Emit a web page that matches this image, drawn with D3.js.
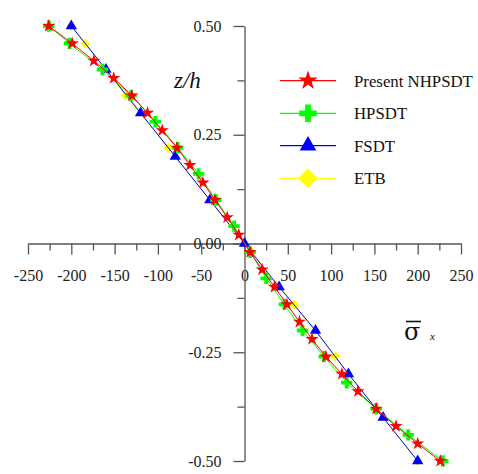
<!DOCTYPE html>
<html><head><meta charset="utf-8">
<script src="https://cdn.jsdelivr.net/npm/d3@7"></script>
<style>html,body{margin:0;padding:0;background:#fff;}svg{display:block;}</style>
</head><body>
<div id="chart"></div>
<script>
// ---- data ----
const xTicks = [-250, -200, -150, -100, -50, 0, 50, 100, 150, 200, 250];
const xTickLabels = ["-250", "-200", "-150", "-100", "-50", "0", "50", "100", "150", "200", "250"];
const yTicks = [0.5, 0.25, 0, -0.25, -0.5];
const yTickLabels = ["0.50", "0.25", "0.00", "-0.25", "-0.50"];

const seriesNames = ["Present NHPSDT", "HPSDT", "FSDT", "ETB"];

const zPresent = [0.5, 0.46, 0.42, 0.38, 0.34, 0.30, 0.26, 0.22, 0.18, 0.14, 0.10, 0.06, 0.02,
  -0.02, -0.06, -0.10, -0.14, -0.18, -0.22, -0.26, -0.30, -0.34, -0.38, -0.42, -0.46, -0.5];
const sPresent = [-226, -199, -174, -151, -130, -112, -95, -78, -63, -48, -34, -20, -6.6,
  6.5, 20.4, 34.6, 49, 63.5, 78, 94, 112.5, 131, 152, 175, 200, 226];

const zHPSDT = [0.5, 0.46, 0.40, 0.34, 0.28, 0.22, 0.16, 0.10, 0.04,
  -0.02, -0.08, -0.14, -0.20, -0.26, -0.32, -0.38, -0.44, -0.5];
const sHPSDT = [-226, -202, -164, -131, -103, -77, -53, -33, -12,
  6.5, 25, 46, 67, 92, 118, 152, 189, 229];

const zFSDT = [0.5, 0.4, 0.3, 0.2, 0.1, 0, -0.1, -0.2, -0.3, -0.4, -0.5];
const sFSDT = [-200, -160, -120, -80, -40, 0, 40, 82, 120, 160, 200];

const zETB = [0.5, 0.46, 0.34, 0.22, 0.10, -0.02, -0.14, -0.26, -0.38, -0.5];
const sETB = [-200, -184, -137, -88, -40, 8, 57, 105, 152, 200];

const colors = ["#ff0000", "#00ff00", "#0000ff", "#ffff00"];

// ---- layout ----
const W = 478, H = 474;
const svg = d3.select("#chart").append("svg").attr("width", W).attr("height", H);
const x = d3.scaleLinear().domain([-250, 250]).range([28, 461]);
const y = d3.scaleLinear().domain([-0.5, 0.5]).range([461, 26]);
const font = "'Liberation Serif','Times New Roman',serif";
const axisColor = "#555";

// minor ticks
const xMinor = d3.range(-225, 250, 50);
const yMinor = [0.375, 0.125, -0.125, -0.375];

const gx = svg.append("g").attr("transform", `translate(0,${y(0)})`);
gx.call(d3.axisBottom(x).tickValues(xTicks).tickFormat((d, i) => xTickLabels[i]).tickSize(11).tickPadding(15).tickSizeOuter(0));
gx.append("g").call(d3.axisBottom(x).tickValues(xMinor).tickFormat("").tickSize(7).tickSizeOuter(0))
  .select(".domain").remove();

const gy = svg.append("g").attr("transform", `translate(${x(0)},0)`);
gy.call(d3.axisLeft(y).tickValues(yTicks).tickFormat((d, i) => yTickLabels[i]).tickSize(11).tickPadding(12).tickSizeOuter(0));
gy.append("g").call(d3.axisLeft(y).tickValues(yMinor).tickFormat("").tickSize(7).tickSizeOuter(0))
  .select(".domain").remove();

svg.selectAll(".domain").attr("stroke", axisColor).attr("stroke-width", 1.3);
svg.selectAll(".tick line").attr("stroke", axisColor).attr("stroke-width", 1.3);
svg.selectAll(".tick text").attr("font-family", font).attr("font-size", 16).attr("fill", "#222");

// ---- series ----
const symbols = [
  {type: d3.symbolStar, size: 54, legend: 115, rot: 0},
  {type: d3.symbolCross, size: 72, legend: 170, rot: 0},
  {type: d3.symbolTriangle, size: 56, legend: 120, rot: 0},
  {type: d3.symbolSquare, size: 50, legend: 190, rot: 45}
];
const series = [
  {z: zPresent, s: sPresent},
  {z: zHPSDT, s: sHPSDT},
  {z: zFSDT, s: sFSDT},
  {z: zETB, s: sETB}
];
const line = d3.line().x(d => x(d[0])).y(d => y(d[1]));
const order = [3, 2, 1, 0];
order.forEach(i => {
  const pts = series[i].s.map((v, k) => [v, series[i].z[k]]);
  const g = svg.append("g");
  g.append("path").datum(pts).attr("d", line).attr("fill", "none")
    .attr("stroke", colors[i]).attr("stroke-width", 1);
  g.selectAll("path.m").data(pts).enter().append("path").attr("class", "m")
    .attr("d", d3.symbol().type(symbols[i].type).size(symbols[i].size))
    .attr("transform", d => `translate(${x(d[0])},${y(d[1])}) rotate(${symbols[i].rot})`)
    .attr("fill", colors[i]);
});

// ---- legend ----
const legY = [80.7, 113.3, 145.7, 178.3];
seriesNames.forEach((name, i) => {
  const g = svg.append("g").attr("transform", `translate(0,${legY[i]})`);
  g.append("line").attr("x1", 280).attr("x2", 336).attr("y1", 0).attr("y2", 0)
    .attr("stroke", colors[i]).attr("stroke-width", 1.2);
  g.append("path").attr("d", d3.symbol().type(symbols[i].type).size(symbols[i].legend))
    .attr("transform", `translate(308,0) rotate(${symbols[i].rot})`).attr("fill", colors[i]);
  g.append("text").attr("x", 354).attr("y", 6).attr("font-family", font)
    .attr("font-size", 16.8).attr("fill", "#111").text(name);
});

// ---- axis titles ----
svg.append("text").attr("x", 174).attr("y", 88).attr("font-family", font)
  .attr("font-style", "italic").attr("font-size", 23).attr("fill", "#111").text("z/h");
svg.append("text").attr("x", 404).attr("y", 340).attr("font-family", "'DejaVu Serif',serif")
  .attr("font-size", 24).attr("fill", "#111").text("σ");
svg.append("text").attr("x", 430).attr("y", 340).attr("font-family", font)
  .attr("font-style", "italic").attr("font-size", 11).attr("fill", "#111").text("x");
svg.append("line").attr("x1", 406).attr("x2", 421).attr("y1", 321.5).attr("y2", 321.5)
  .attr("stroke", "#111").attr("stroke-width", 1.6);
</script>
</body></html>
